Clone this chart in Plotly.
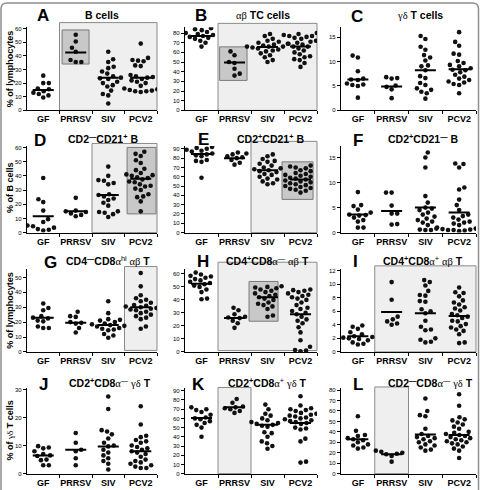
import math
import plotly.graph_objects as go

W, H = 480, 490
GROUPS = ["GF", "PRRSV", "SIV", "PCV2"]

# ---------------- data ----------------
A_points = [[25.5, 20, 20, 16, 15.5, 14, 13, 12, 11, 9.5],
            [55.5, 50.5, 46, 43, 37, 35.5, 35.5],
            [43, 37.5, 35.5, 32, 31, 28.5, 27, 25, 24, 23.5, 23, 21, 20, 18.5, 17.5, 14.5, 12, 11, 5],
            [49, 38.5, 37, 36.5, 36, 33, 32.5, 26, 25, 24.5, 24, 23, 22, 21, 20, 18, 17, 16, 15.5, 15, 14.5, 14, 14, 13.5]]
A_lines = [15, 42.5, 24, 24]

B_points = [[85, 84, 83, 81, 80, 79, 78, 77, 76, 75, 74, 72, 70, 66],
            [61, 57, 50, 49, 43, 38, 36],
            [79, 77, 74, 72, 71, 70, 69, 68, 67, 66, 66, 66, 65, 64, 63, 62, 61, 59, 57, 55, 52, 50],
            [80, 79, 78, 77, 77, 76, 75, 74, 72, 71, 70, 69, 68, 66, 66, 64, 62, 60, 58, 56, 55, 53, 52, 49, 45]]
B_lines = [77, 49.5, 65.5, 66]

C_points = [[11.2, 10.8, 8, 6.5, 6.3, 6.2, 5.5, 5.3, 5.2, 5.0, 2.6],
            [6.8, 6.6, 6.5, 5.1, 4.8, 4.3, 2.5],
            [15.2, 14.6, 13, 12.4, 11.3, 10.8, 10.2, 9.2, 9.0, 8.2, 7.0, 6.6, 5.6, 5.2, 4.5, 4.2, 3.8, 3.5, 2.4],
            [16, 14, 13.2, 11.6, 11.4, 10.1, 9.7, 9.3, 9.0, 8.6, 8.3, 8.2, 7.8, 7.3, 6.9, 6.5, 6.2, 5.9, 5.7, 5.4, 5.2, 3.5]]
C_lines = [6.3, 4.9, 8.2, 8.4]

D_points = [[38.5, 23.5, 21.5, 15.5, 9.5, 7.5, 5, 4.5, 3.5, 2.5, 2, 1.5],
            [24.5, 15.5, 15, 14.5, 13.5, 12.5, 11.5],
            [46.5, 40, 37, 36.5, 35, 34, 27, 26.5, 25.5, 24, 23, 21, 19, 15, 14.5, 14, 13, 11],
            [57, 55.5, 54, 51, 49, 45, 44, 42, 41, 40.5, 40, 39, 38.5, 37.5, 36, 35.5, 34, 33, 32.5, 31, 30, 27, 25.5, 25, 22, 15]]
D_lines = [11.5, 15, 26.5, 38]

E_points = [[92, 91, 90, 89, 88, 87, 85, 84, 83, 82, 78, 77, 76, 59],
            [86, 85, 84, 82, 81, 80, 78, 75, 73],
            [84, 82, 79, 77, 76, 74, 72, 70, 69, 68, 67, 66, 65, 63, 62, 60, 58, 57, 55, 53, 52],
            [72, 71, 70, 69, 67, 66, 64, 63, 62, 61, 60, 59, 58, 57, 56, 55, 54, 53, 52, 51, 50, 49, 48, 47, 46, 45, 43]]
E_lines = [84.5, 80, 67, 57]

F_points = [[8.1, 5.5, 5.3, 4.6, 4.0, 3.6, 3.5, 3.4, 3.0, 2.5, 2.2, 1.0, 1.0],
            [8.0, 8.0, 5.4, 3.8, 3.8, 1.7, 1.6],
            [16, 15, 13, 7.3, 6.0, 5.0, 4.8, 4.5, 4.0, 3.6, 3.2, 2.8, 2.5, 2.2, 2.0, 1.5, 0.8, 0.6, 0.5, 0.5],
            [13.8, 13.7, 13.0, 9.0, 8.6, 6.6, 5.5, 4.5, 3.6, 3.3, 3.0, 2.6, 2.2, 2.0, 1.8, 1.5, 1.2, 1.0, 0.8, 0.7, 0.6, 0.5, 0.5, 0.4, 0.3]]
F_lines = [3.6, 4.3, 5.0, 4.0]

G_points = [[32.5, 29.5, 28, 24, 23, 22.5, 21, 20.5, 17, 16, 16],
            [27, 24, 23.5, 20, 19.5, 19, 16, 13],
            [34, 26, 22, 21.5, 21, 20, 19, 18.5, 18, 17.5, 17, 16, 15.5, 15, 14.5, 12, 11, 9.5],
            [53, 44, 38, 36, 35, 34, 33, 32, 31.5, 31, 30.5, 30, 29.5, 29, 28.5, 28, 27, 26, 25, 24, 23, 22, 17, 15.5]]
G_lines = [23, 19.5, 18, 30]

H_points = [[61, 59.5, 58.5, 58, 57, 56, 55, 54, 53, 52, 51, 50, 48, 46, 41, 40.5],
            [34, 32, 29, 27, 26.5, 26, 24, 22, 18.5],
            [50.5, 50, 49.5, 49, 48, 47, 46, 45, 44, 43, 42, 41, 40, 38, 37, 36, 35, 33, 28, 27],
            [48, 47.5, 47, 46, 45, 44, 43, 42, 41, 40, 38, 36, 34, 33, 31.5, 30, 29, 27, 25, 24, 22, 19, 15, 9, 4, 1.5, 1, 0.5]]
H_lines = [52.5, 26, 42, 29]

I_points = [[3.9, 3.7, 3.4, 2.9, 2.6, 2.3, 2.2, 2.1, 2.0, 1.9, 1.7, 1.4, 1.2, 1.1],
            [10.3, 7.7, 5.2, 4.8, 4.5, 4.2, 4.0],
            [10.6, 10.3, 9.8, 9.0, 8.4, 8.3, 7.5, 7.4, 6.3, 6.0, 5.7, 4.6, 3.7, 3.3, 3.2, 2.0, 1.8, 1.5, 1.4],
            [9.5, 8.8, 8.7, 8.2, 7.6, 7.3, 7.0, 6.6, 6.4, 6.1, 5.6, 5.4, 5.2, 5.0, 4.6, 4.5, 4.1, 3.8, 3.6, 3.3, 3.1, 2.6, 1.4, 1.3]]
I_lines = [2.3, 5.9, 5.7, 5.3]

J_points = [[9.8, 9.3, 9.0, 8.0, 7.0, 6.5, 6.3, 5.0, 4.8, 3.0, 3.0],
            [14.5, 11, 8.5, 8.0, 5.5, 3.0],
            [27.5, 23, 15.5, 15, 14, 12.5, 11, 10, 9.7, 8.5, 7.5, 6.5, 5.5, 4.5, 3.5, 1.5],
            [24, 17.5, 13.5, 13, 12, 11.5, 11, 10, 9.5, 9, 8.5, 8, 7.5, 7, 6, 5, 4.5, 4, 3.5, 3, 2.5, 2, 2]]
J_lines = [6.5, 8.5, 9.7, 8]

K_points = [[72, 70, 69, 67, 64, 61, 60, 59, 57, 55, 53, 50, 40],
            [81, 77, 73, 72, 71, 70, 68, 66],
            [75, 70, 65, 63, 60, 58, 56, 55, 54, 53, 52, 51, 45, 44, 40, 35, 33, 30, 27],
            [84, 74, 71, 70, 69, 68, 66, 65, 64, 63, 62, 61, 60, 59, 58, 57, 56, 55, 54, 50, 49, 48, 38, 35, 13, 12]]
K_lines = [60.5, 72, 53, 55]

L_points = [[55, 41, 37, 36, 34, 33, 32, 30, 28, 27, 25, 24],
            [22, 21, 20, 19, 18.5, 17, 11.5],
            [72, 60, 56, 55, 43, 38, 36, 35, 34, 33, 31, 30, 28, 27, 25, 23, 22],
            [76, 65, 54, 52, 51, 49, 47, 45, 43, 40, 39, 38, 37, 36, 35, 34, 33, 32, 31, 30, 29, 28, 26, 24, 22, 15]]
L_lines = [33, 18.5, 37.5, 37]

SERIF = "font-family:'Liberation Serif','DejaVu Serif',serif;font-weight:normal"
def s(t):
    return f"<span style=\"{SERIF}\">{t}</span>"

TITLES = {
    "A": "<b>B cells</b>",
    "B": s("αβ") + " <b>TC cells</b>",
    "C": s("γδ") + " <b>T cells</b>",
    "D": "<b>CD2<sup>—</sup>CD21<sup>+</sup> B</b>",
    "E": "<b>CD2<sup>+</sup>CD21<sup>+</sup> B</b>",
    "F": "<b>CD2<sup>+</sup>CD21<sup>—</sup> B</b>",
    "G": "<b>CD4<sup>—</sup>CD8</b>" + s("α") + "<sup>hi</sup> " + s("αβ") + " <b>T</b>",
    "H": "<b>CD4<sup>+</sup>CD8</b>" + s("α") + "<sup>—</sup> " + s("αβ") + " <b>T</b>",
    "I": "<b>CD4<sup>+</sup>CD8</b>" + s("α") + "<sup>+</sup> " + s("αβ") + " <b>T</b>",
    "J": "<b>CD2<sup>+</sup>CD8</b>" + s("α") + "<sup>—</sup> " + s("γδ") + " <b>T</b>",
    "K": "<b>CD2<sup>+</sup>CD8</b>" + s("α") + "<sup>+</sup> " + s("γδ") + " <b>T</b>",
    "L": "<b>CD2<sup>—</sup>CD8</b>" + s("α") + "<sup>—</sup> " + s("γδ") + " <b>T</b>",
}
YTITLES = {"A": "<b>% of lymphocytes</b>", "D": "<b>% of B cells</b>",
           "G": "<b>% of lymphocytes</b>", "J": "<b>% of </b>" + s("γδ") + "<b> T cells</b>"}

# y-axis max and tick step per panel
YMAX = {"A": 61, "B": 86, "C": 17, "D": 61, "E": 93, "F": 17.3,
        "G": 55.5, "H": 63.6, "I": 12.2, "J": 30.5, "K": 93, "L": 82}
DTICK = {"A": 10, "B": 10, "C": 5, "D": 10, "E": 10, "F": 5,
         "G": 10, "H": 10, "I": 2, "J": 10, "K": 10, "L": 10}
# shaded boxes: (x from, x to, y from, y to) in category / value units
LIGHT = {"A": (0.5, 3.5, 0, 64.4), "B": (0.5, 3.5, 0, 90), "D": (1.5, 3.5, 0, 62.8),
         "E": (1.5, 3.5, 0, 98), "G": (2.5, 3.5, 1, 57.3), "H": (0.5, 3.5, 1, 69),
         "I": (0.5, 3.5, 0, 12.7), "K": (0.5, 1.5, 0, 93.6), "L": (0.5, 1.5, 0, 83)}
DARK = {"A": (0.58, 1.41, 34, 59), "B": (0.55, 1.38, 31, 65.7), "D": (2.58, 3.47, 13.2, 60),
        "E": (2.44, 3.38, 35.7, 76), "H": (1.44, 2.32, 23.6, 54.2)}

PANELS = [("A", A_points, A_lines), ("B", B_points, B_lines), ("C", C_points, C_lines),
          ("D", D_points, D_lines), ("E", E_points, E_lines), ("F", F_points, F_lines),
          ("G", G_points, G_lines), ("H", H_points, H_lines), ("I", I_points, I_lines),
          ("J", J_points, J_lines), ("K", K_points, K_lines), ("L", L_points, L_lines)]

# ---------------- layout geometry (pixels) ----------------
COLS = [(27, 157), (185, 317), (341, 476)]
ROWS = [(109.5, 25.5), (233, 145.5), (353.5, 270), (476.5, 390)]   # (y of 0, y of top)
LETTER_POS = {"A": (43, 14), "B": (201, 14), "C": (357, 15), "D": (40, 140), "E": (203, 139),
              "F": (358, 140), "G": (50, 263), "H": (203, 262), "I": (355, 262),
              "J": (43, 386), "K": (198, 386), "L": (358, 386)}
TITLE_POS = {"A": (102, 13), "B": (263, 13), "C": (420, 13), "D": (103, 138), "E": (270, 138),
             "F": (423, 138), "G": (108, 261), "H": (267, 261), "I": (423, 261),
             "J": (110, 384), "K": (267, 384), "L": (430, 384)}
YTITLE_POS = {"A": (10, 68), "D": (10, 188), "G": (10, 312), "J": (10, 433)}

FONT = "Liberation Sans, Arial, sans-serif"


def swarm(vals, ppx, ppy, d=5.6):
    order = sorted(range(len(vals)), key=lambda i: vals[i])
    placed, xs = [], [0.0] * len(vals)
    for k, i in enumerate(order):
        y = vals[i] * ppy
        ivs = []
        for (px, py) in placed:
            dy = abs(y - py)
            if dy < d:
                h = math.sqrt(d * d - dy * dy)
                ivs.append((px - h, px + h))
        cands = [0.0] + [a for a, b in ivs] + [b for a, b in ivs]
        sign = 1 if k % 2 else -1
        cands.sort(key=lambda c: (round(abs(c), 6), -sign * c))
        x = 0.0
        for c in cands:
            if all(not (a + 1e-6 < c < b - 1e-6) for a, b in ivs):
                x = c
                break
        placed.append((x, y))
        xs[i] = x / ppx
    return xs


fig = go.Figure()
layout = dict(width=W, height=H, margin=dict(l=0, r=0, t=0, b=0),
              paper_bgcolor="white", plot_bgcolor="rgba(0,0,0,0)", showlegend=False,
              font=dict(family=FONT, color="black"))
shapes, annotations = [], []

for n, (key, pts, lines) in enumerate(PANELS):
    r, c = divmod(n, 3)
    x0, x1 = COLS[c]
    yb, yt = ROWS[r]
    idx = "" if n == 0 else str(n + 1)
    xa, ya = "x" + idx, "y" + idx
    ymax = YMAX[key]
    ppx = (x1 - x0) / 4.0
    ppy = (yb - yt) / ymax

    layout["xaxis" + idx] = dict(
        domain=[x0 / W, x1 / W], anchor=ya, range=[-0.5, 3.5],
        tickmode="array", tickvals=[0, 1, 2, 3], ticktext=["<b>" + g + "</b>" for g in GROUPS],
        ticks="", tickfont=dict(size=9, family=FONT), showline=True, linecolor="black",
        linewidth=1.2, showgrid=False, zeroline=False, fixedrange=True,
        minor=dict(tickmode="array", tickvals=[0.5, 1.5, 2.5, 3.5], ticks="outside",
                   ticklen=3, tickwidth=1, tickcolor="black", showgrid=False))
    layout["yaxis" + idx] = dict(
        domain=[1 - yb / H, 1 - yt / H], anchor=xa, range=[0, ymax],
        tick0=0, dtick=DTICK[key], ticks="outside", ticklen=3, tickwidth=1, tickcolor="black",
        tickfont=dict(size=6, family=FONT), showline=True, linecolor="black", linewidth=1.2,
        showgrid=False, zeroline=False, fixedrange=True)

    def box(b, fill, line):
        bx0, bx1, by0, by1 = b
        shapes.append(dict(type="rect", xref=xa + " domain", yref=ya + " domain",
                           x0=(bx0 + 0.5) / 4, x1=(bx1 + 0.5) / 4, y0=by0 / ymax, y1=by1 / ymax,
                           fillcolor=fill, line=dict(color=line, width=1), layer="below"))
    if key in LIGHT:
        box(LIGHT[key], "#efefef", "#8a8a8a")
    if key in DARK:
        box(DARK[key], "#c8c8c8", "#7a7a7a")

    for g, vals in enumerate(pts):
        offs = swarm(vals, ppx, ppy)
        fig.add_trace(go.Scatter(x=[g + o for o in offs], y=vals, mode="markers",
                                 xaxis=xa, yaxis=ya, hoverinfo="skip",
                                 marker=dict(size=4.6, color="#111", line=dict(width=0))))
    fig.add_trace(go.Scatter(x=list(range(4)), y=lines, mode="markers", xaxis=xa, yaxis=ya,
                             hoverinfo="skip",
                             marker=dict(symbol="line-ew", size=15, color="black",
                                         line=dict(width=2, color="black"))))

    lx, ly = LETTER_POS[key]
    annotations.append(dict(text="<b>" + key + "</b>", x=lx / W, y=1 - ly / H, xref="paper",
                            yref="paper", showarrow=False, xanchor="center", yanchor="middle",
                            font=dict(size=17, family=FONT)))
    tx, ty = TITLE_POS[key]
    annotations.append(dict(text=TITLES[key], x=tx / W, y=1 - ty / H, xref="paper", yref="paper",
                            showarrow=False, xanchor="center", yanchor="middle",
                            font=dict(size=10.5, family=FONT)))
    if key in YTITLES:
        px_, py_ = YTITLE_POS[key]
        annotations.append(dict(text=YTITLES[key], x=px_ / W, y=1 - py_ / H, xref="paper",
                                yref="paper", showarrow=False, textangle=-90,
                                xanchor="center", yanchor="middle",
                                font=dict(size=9, family=FONT)))

# outer rounded frame
fx0, fx1 = 1.0 / W, 478.5 / W
fyt, fyb = 1 - 1.0 / H, -0.03
rx, ry = 6.0 / W, 6.0 / H
shapes.append(dict(type="path", xref="paper", yref="paper",
                   path=(f"M {fx0 + rx},{fyt} L {fx1 - rx},{fyt} Q {fx1},{fyt} {fx1},{fyt - ry} "
                         f"L {fx1},{fyb} L {fx0},{fyb} L {fx0},{fyt - ry} Q {fx0},{fyt} {fx0 + rx},{fyt} Z"),
                   line=dict(color="#8f8f8f", width=1.5), layer="above"))

layout["shapes"] = shapes
layout["annotations"] = annotations
fig.update_layout(**layout)
fig.write_html("out.html")
